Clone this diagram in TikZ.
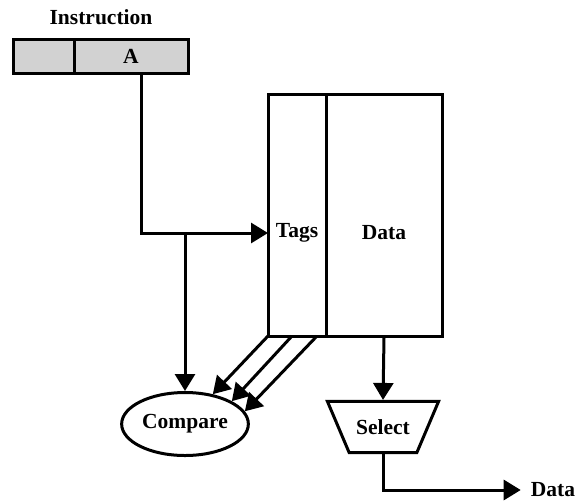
\documentclass[tikz,border=0pt]{standalone}
\usepackage{fontspec}
\setmainfont{Liberation Serif}
\usetikzlibrary{shapes.geometric,arrows.meta,calc}

\tikzset{
  cell/.style={draw,line width=3pt,fill=gray!35,minimum height=34pt,inner sep=0pt},
  col/.style={draw,line width=3pt,minimum height=242pt,inner sep=0pt},
  lbl/.style={font=\fontsize{21.5}{25}\selectfont\bfseries,inner sep=2pt},
  tip/.style={-{Triangle[length=17pt,width=20pt]},line width=3pt}
}

\begin{document}
\begin{tikzpicture}[x=1pt,y=-1pt]
    \useasboundingbox (0,0) rectangle (577,501);
    % instruction register
    \node[lbl]                    (ins)  at (101,17)  {Instruction};
    \node[cell,minimum width=61pt] (opc)  at (43.5,56) {};
    \node[cell,minimum width=114pt](addr) at (131,56) {};
    \node[lbl]                    (adr)  at (131,56)  {A};
    % cache columns
    \node[col,minimum width=58pt]  (tags) at (297,215) {};
    \node[col,minimum width=116pt] (data) at (384,215) {};
    \node[lbl]                    (tl)   at (297,233) {Tags};
    \node[lbl]                    (dl)   at (384,233) {Data};
    % compare and select
    \node[draw,ellipse,line width=3pt,minimum width=123pt,minimum height=63pt,lbl] (cmp) at (185,424) {Compare};
    \node[draw,trapezium,trapezium left angle=67,trapezium right angle=67,shape border rotate=180,
          line width=3pt,lbl,inner xsep=7pt,inner ysep=18pt] (sel) at (383,427) {Select};
    \node[lbl]                    (dout) at (553,490) {Data};
    % connectors
    \coordinate (a)   at (141,73);
    \coordinate (tin) at (268,233);
    \coordinate (br)  at (185,233);
    \coordinate (t1)  at (268,336);
    \coordinate (t2)  at (292,336);
    \coordinate (t3)  at (317,336);
    \draw[tip] (a) |- (tin);
    \draw[tip] (br) -- (cmp.north);
    \draw[tip] (t1) -- (cmp.47);
    \draw[tip] (t2) -- (cmp.26);
    \draw[tip] (t3) -- (cmp.12);
    \draw[tip] (data.south) -- (sel.north);
    \draw[tip] (sel.south) |- ($(dout.west)+(-8,0)$);
\end{tikzpicture}
\end{document}
